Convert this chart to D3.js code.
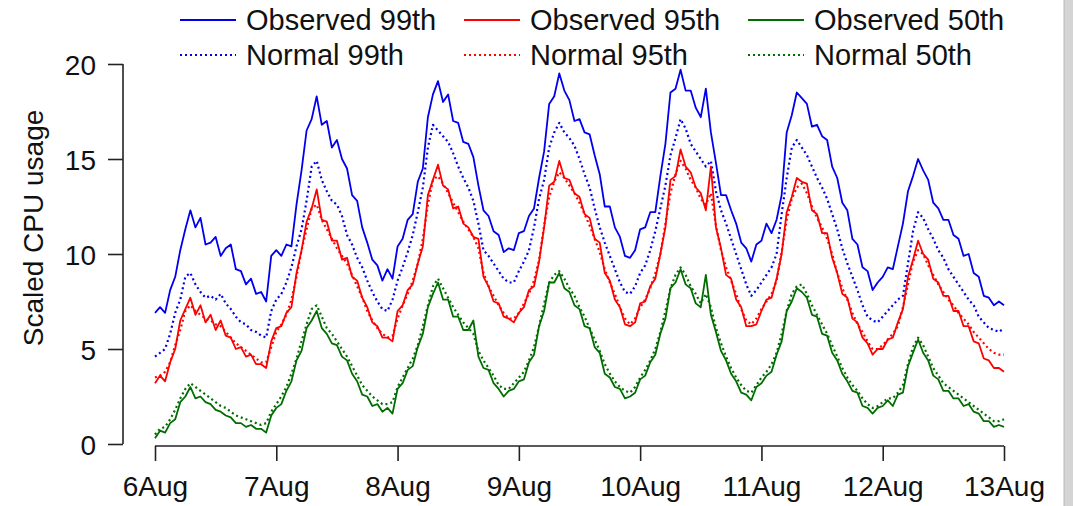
<!DOCTYPE html>
<html>
<head>
<meta charset="utf-8">
<script src="https://cdn.jsdelivr.net/npm/d3@7"></script>
<style>
  body { margin: 0; background: #fff; }
  svg { display: block; }
  text { font-family: "Liberation Sans", Arial, Helvetica, sans-serif; fill: #111; }
</style>
</head>
<body>
<svg id="chart" width="1073" height="506"></svg>
<script>
// hourly readings, 6 Aug 00:00 .. 13 Aug 00:00 (169 points each)
const observed99 = [
  6.9,7.2,6.9,8.1,8.8,10.2,11.3,12.3,11.4,11.9,10.5,10.6,10.9,9.9,10.3,10.5,9.2,9.1,8.4,8.7,7.9,8.0,7.5,9.9,
  10.2,9.9,10.5,10.4,12.6,14.4,16.5,17.1,18.3,16.8,17.0,15.6,16.0,15.0,14.5,13.1,12.8,11.4,10.6,9.7,9.4,8.6,9.2,8.7,
  10.4,10.8,11.8,12.1,13.8,14.5,17.2,18.4,19.1,18.0,18.4,17.0,16.9,15.9,15.8,15.1,13.6,12.3,12.0,11.2,11.0,10.1,10.3,10.2,
  11.1,11.2,12.0,12.4,14.0,15.4,17.9,18.3,19.5,18.6,18.1,17.0,17.1,16.4,16.3,15.2,14.2,12.5,12.5,11.4,10.9,9.9,9.8,10.2,
  11.3,11.4,12.2,12.2,14.1,15.8,18.5,18.7,19.7,18.6,18.6,17.7,17.2,18.7,16.4,14.8,13.1,13.1,12.3,11.6,10.6,10.3,9.6,10.5,
  10.7,11.6,11.1,11.8,13.1,16.4,17.3,18.5,18.2,17.9,16.7,16.8,16.2,16.0,14.6,14.0,12.7,12.3,10.8,10.5,9.3,9.1,8.1,8.5,
  8.8,9.3,9.2,10.4,11.6,13.3,14.1,15.0,14.4,13.9,12.7,12.4,11.8,11.8,11.0,10.8,9.9,10.0,9.0,8.8,7.8,7.7,7.3,7.5,
  7.3
];
const normal99 = [
  4.6,4.8,5.0,5.8,6.9,7.6,8.8,9.0,8.4,8.0,7.7,7.8,7.6,7.9,7.4,7.1,6.7,6.4,6.3,6.0,5.9,5.7,5.6,7.0,
  7.6,7.9,8.5,9.3,10.4,11.3,12.8,14.6,14.9,13.9,13.3,12.8,12.6,12.0,11.0,10.5,9.8,9.3,8.6,8.0,7.5,7.1,7.0,7.6,
  8.6,9.3,10.1,11.0,12.2,13.5,15.6,16.8,16.5,16.2,15.9,15.3,14.6,14.0,13.5,12.8,11.6,10.2,9.9,9.5,9.1,8.7,8.5,8.5,
  9.1,9.6,10.2,11.4,12.9,13.9,15.6,16.4,16.9,16.4,16.1,15.7,15.0,14.2,13.5,12.4,11.4,10.6,9.9,9.2,8.5,8.0,7.9,8.3,
  9.0,9.4,10.2,11.2,12.4,13.6,15.2,16.1,17.1,16.6,15.8,15.4,15.0,14.6,14.9,13.3,12.3,11.6,10.8,10.0,9.2,8.4,7.8,8.1,
  8.5,8.9,9.3,10.0,12.1,14.0,15.6,16.0,15.6,15.2,14.6,14.0,13.5,12.9,12.1,11.3,10.3,9.5,8.8,8.1,7.3,6.7,6.5,6.4,
  6.7,7.0,7.3,7.6,7.8,9.5,11.2,12.2,11.9,11.3,10.8,10.2,9.8,9.2,8.8,8.4,8.0,7.6,7.3,6.7,6.4,6.1,6.0,5.9,
  6.1
];
const observed95 = [
  3.2,3.6,3.3,4.3,5.0,6.5,7.1,7.7,6.8,7.3,6.4,6.8,6.0,6.5,5.7,5.6,5.0,5.1,4.6,4.7,4.2,4.2,4.0,5.4,
  6.1,6.2,6.9,7.2,9.0,10.2,11.7,12.4,13.4,11.8,11.7,10.7,10.7,9.7,9.8,8.8,8.6,7.7,7.2,6.4,6.2,5.6,5.6,5.4,
  7.0,7.3,8.1,8.4,9.5,10.4,13.1,13.9,14.7,13.6,13.4,12.4,12.5,11.6,11.4,10.9,10.8,8.8,8.3,7.5,7.4,6.7,6.6,6.4,
  6.9,7.2,8.1,8.3,9.6,11.4,13.6,13.8,14.9,14.0,13.9,13.2,13.0,12.1,11.9,10.8,10.6,9.0,8.6,7.6,7.2,6.3,6.2,6.4,
  7.4,7.5,8.3,8.7,10.0,11.4,13.9,14.1,15.5,14.6,14.3,13.5,13.2,12.3,14.6,11.4,10.3,8.9,8.7,7.6,7.2,6.2,6.2,6.3,
  7.0,7.6,7.7,8.7,10.0,12.2,13.0,14.0,13.8,13.7,12.3,12.1,11.1,11.1,9.8,9.0,7.9,7.7,6.6,6.4,5.6,5.3,4.7,5.0,
  5.0,5.5,5.6,6.4,7.1,8.8,9.7,10.7,10.0,9.7,8.7,8.5,7.8,7.8,7.0,7.0,6.2,6.2,5.4,5.3,4.5,4.4,4.0,4.0,
  3.8
];
const normal95 = [
  3.5,3.6,3.8,4.3,5.2,6.0,7.0,7.3,7.0,6.8,6.6,6.5,6.3,6.2,5.9,5.6,5.3,5.1,4.9,4.7,4.5,4.3,4.3,5.1,
  5.9,6.3,6.8,7.6,8.8,10.2,11.3,12.4,12.6,11.8,11.3,10.8,10.3,9.9,9.5,8.9,8.3,7.7,7.0,6.5,6.1,5.8,5.6,5.7,
  6.6,7.3,7.9,8.6,9.5,10.8,12.6,13.9,14.1,13.7,13.2,12.7,12.2,11.7,11.3,10.9,10.3,9.0,8.3,7.8,7.3,6.9,6.6,6.6,
  6.9,7.4,7.9,8.6,9.7,11.5,13.0,13.8,14.3,14.0,13.6,13.2,12.7,12.1,11.5,10.8,10.1,9.2,8.5,7.9,7.2,6.6,6.3,6.6,
  7.2,7.6,8.2,9.0,10.0,11.6,13.2,14.2,14.9,14.5,13.9,13.5,12.9,12.6,13.2,11.5,10.2,9.3,8.6,7.9,7.1,6.5,6.3,6.6,
  7.1,7.5,7.9,8.6,10.1,11.8,12.9,13.5,13.7,13.2,12.5,11.9,11.4,10.8,10.0,9.0,8.2,7.6,6.9,6.3,5.9,5.4,5.0,5.0,
  5.2,5.5,5.8,6.2,7.2,8.4,9.6,10.2,10.0,9.4,8.9,8.4,8.0,7.6,7.3,6.9,6.6,6.3,5.9,5.6,5.3,5.0,4.8,4.7,
  4.7
];
const observed50 = [
  0.3,0.7,0.6,1.1,1.3,2.2,2.5,3.0,2.4,2.5,2.2,2.1,1.8,1.7,1.5,1.4,1.1,1.1,0.9,1.0,0.8,0.8,0.6,1.5,
  1.9,2.1,2.8,3.3,4.4,4.9,6.1,6.5,7.0,6.1,5.8,5.3,5.2,4.6,4.4,3.7,3.3,2.6,2.5,2.0,2.1,1.7,1.9,1.6,
  2.9,3.2,3.9,4.1,5.1,5.8,7.2,7.9,8.5,7.6,7.6,6.7,6.7,6.0,6.0,6.5,4.6,4.0,3.9,3.2,2.9,2.5,2.8,2.9,
  3.3,3.4,4.3,4.7,6.2,7.0,8.5,8.5,9.0,8.2,8.0,7.3,7.1,6.2,6.1,5.1,4.8,3.7,3.5,3.0,2.9,2.4,2.5,2.7,
  3.4,3.6,4.3,4.7,5.8,6.6,8.2,8.5,9.2,8.4,8.2,7.4,7.2,8.9,6.8,5.9,4.9,4.4,3.7,3.3,2.7,2.6,2.3,3.0,
  3.2,3.6,3.8,4.7,5.4,7.0,7.5,8.2,8.0,7.7,6.8,6.7,5.8,5.7,4.8,4.4,3.7,3.3,2.8,2.7,2.0,1.9,1.6,1.9,
  2.0,2.3,2.0,2.6,2.7,4.1,4.8,5.5,4.8,4.4,3.6,3.4,2.8,2.8,2.4,2.4,2.0,2.1,1.7,1.6,1.2,1.2,0.9,1.0,
  0.9
];
const normal50 = [
  0.5,0.8,0.9,1.3,1.8,2.4,2.9,3.2,3.0,2.8,2.6,2.4,2.2,2.0,1.9,1.7,1.5,1.4,1.3,1.2,1.1,1.0,1.1,1.7,
  2.1,2.5,3.0,3.7,4.5,5.4,6.3,7.1,7.3,6.7,6.1,5.8,5.4,5.0,4.6,4.1,3.6,3.1,2.8,2.5,2.3,2.1,2.1,2.2,
  3.0,3.5,4.0,4.5,5.2,6.2,7.3,8.3,8.7,8.2,7.7,7.2,6.8,6.4,6.1,5.8,4.9,4.4,4.0,3.6,3.1,2.9,2.9,3.2,
  3.5,3.8,4.4,5.1,6.2,7.4,8.5,8.9,9.1,8.7,8.2,7.8,7.2,6.7,6.1,5.5,4.9,4.2,3.7,3.3,3.0,2.8,2.7,3.0,
  3.5,3.9,4.4,5.0,5.9,7.0,8.2,8.9,9.3,8.9,8.3,7.9,7.4,7.9,7.2,6.1,5.3,4.6,4.0,3.5,3.1,2.8,2.7,3.1,
  3.5,3.8,4.2,4.8,5.8,7.0,7.9,8.3,8.4,7.9,7.3,6.8,6.3,5.8,5.2,4.6,4.0,3.5,3.1,2.8,2.4,2.1,1.9,2.0,
  2.2,2.4,2.4,2.7,3.1,4.2,5.1,5.6,5.2,4.6,4.0,3.6,3.2,3.0,2.8,2.6,2.4,2.2,2.0,1.8,1.6,1.4,1.2,1.2,
  1.3
];

const dayLabels = ["6Aug", "7Aug", "8Aug", "9Aug", "10Aug", "11Aug", "12Aug", "13Aug"];
const yTicks = [0, 5, 10, 15, 20];

const seriesList = [
  { name: "Observed 99th", values: observed99, color: "#0000ee", dotted: false },
  { name: "Normal 99th", values: normal99, color: "#0000ee", dotted: true },
  { name: "Observed 95th", values: observed95, color: "#ff0000", dotted: false },
  { name: "Normal 95th", values: normal95, color: "#ff0000", dotted: true },
  { name: "Observed 50th", values: observed50, color: "#006d00", dotted: false },
  { name: "Normal 50th", values: normal50, color: "#006d00", dotted: true }
];

const svg = d3.select("#chart");

// scales: x in hours since 6 Aug 00:00
const x = d3.scaleLinear().domain([0, 168]).range([155, 1004]);
const y = d3.scaleLinear().domain([0, 20]).range([444, 64]);

// y axis (R style: line spans ticks only)
const yAxis = svg.append("g").attr("transform", "translate(123,0)")
  .call(d3.axisLeft(y).tickValues(yTicks).tickSize(15).tickPadding(12).tickSizeOuter(0));
yAxis.select(".domain").attr("d", `M0,${y(20)}V${y(0)}`);

// x axis
const xAxis = svg.append("g").attr("transform", "translate(0,446)")
  .call(d3.axisBottom(x).tickValues(d3.range(0, 169, 24)).tickSize(15).tickPadding(15)
    .tickSizeOuter(0).tickFormat((d, i) => dayLabels[i]));
xAxis.select(".domain").attr("d", `M${x(0)},0H${x(168)}`);

svg.selectAll(".domain, .tick line").attr("stroke", "#222").attr("stroke-width", 1.6);
svg.selectAll(".tick text").style("font-size", "28px").attr("fill", "#111");
yAxis.selectAll(".tick text").attr("dy", "0.36em");
xAxis.selectAll(".tick text").attr("dy", "0.71em");

// y label
svg.append("text")
  .attr("transform", "translate(43,228) rotate(-90)")
  .attr("text-anchor", "middle")
  .style("font-size", "28px")
  .text("Scaled CPU usage");

// lines
const line = d3.line().x((d, i) => x(i)).y(d => y(d));
svg.append("g").selectAll("path")
  .data(seriesList)
  .enter()
  .append("path")
  .attr("d", d => line(d.values))
  .attr("fill", "none")
  .attr("stroke", d => d.color)
  .attr("stroke-width", d => d.dotted ? 2.2 : 1.8)
  .attr("stroke-dasharray", d => d.dotted ? "2,3" : null)
  .attr("stroke-linejoin", "round");

// legend: 3 columns x 2 rows
const legendCols = [180, 464, 748];
const legendRows = [20, 55];
const legend = svg.append("g").selectAll("g")
  .data(seriesList)
  .enter()
  .append("g")
  .attr("transform", (d, i) => `translate(${legendCols[Math.floor(i / 2)]},${legendRows[i % 2]})`);
legend.append("line")
  .attr("x1", 0).attr("x2", 56)
  .attr("stroke", d => d.color)
  .attr("stroke-width", d => d.dotted ? 2.2 : 1.8)
  .attr("stroke-dasharray", d => d.dotted ? "2,3" : null);
legend.append("text")
  .attr("x", 66)
  .attr("dy", "0.36em")
  .style("font-size", "29px")
  .text(d => d.name);

// grey strip at the right edge
svg.append("rect").attr("x", 1064).attr("y", 0).attr("width", 9).attr("height", 506)
  .attr("fill", "#d4d4d4");
svg.append("line").attr("x1", 1064).attr("x2", 1064).attr("y1", 0).attr("y2", 506)
  .attr("stroke", "#b8b8b8").attr("stroke-width", 1);
</script>
</body>
</html>
